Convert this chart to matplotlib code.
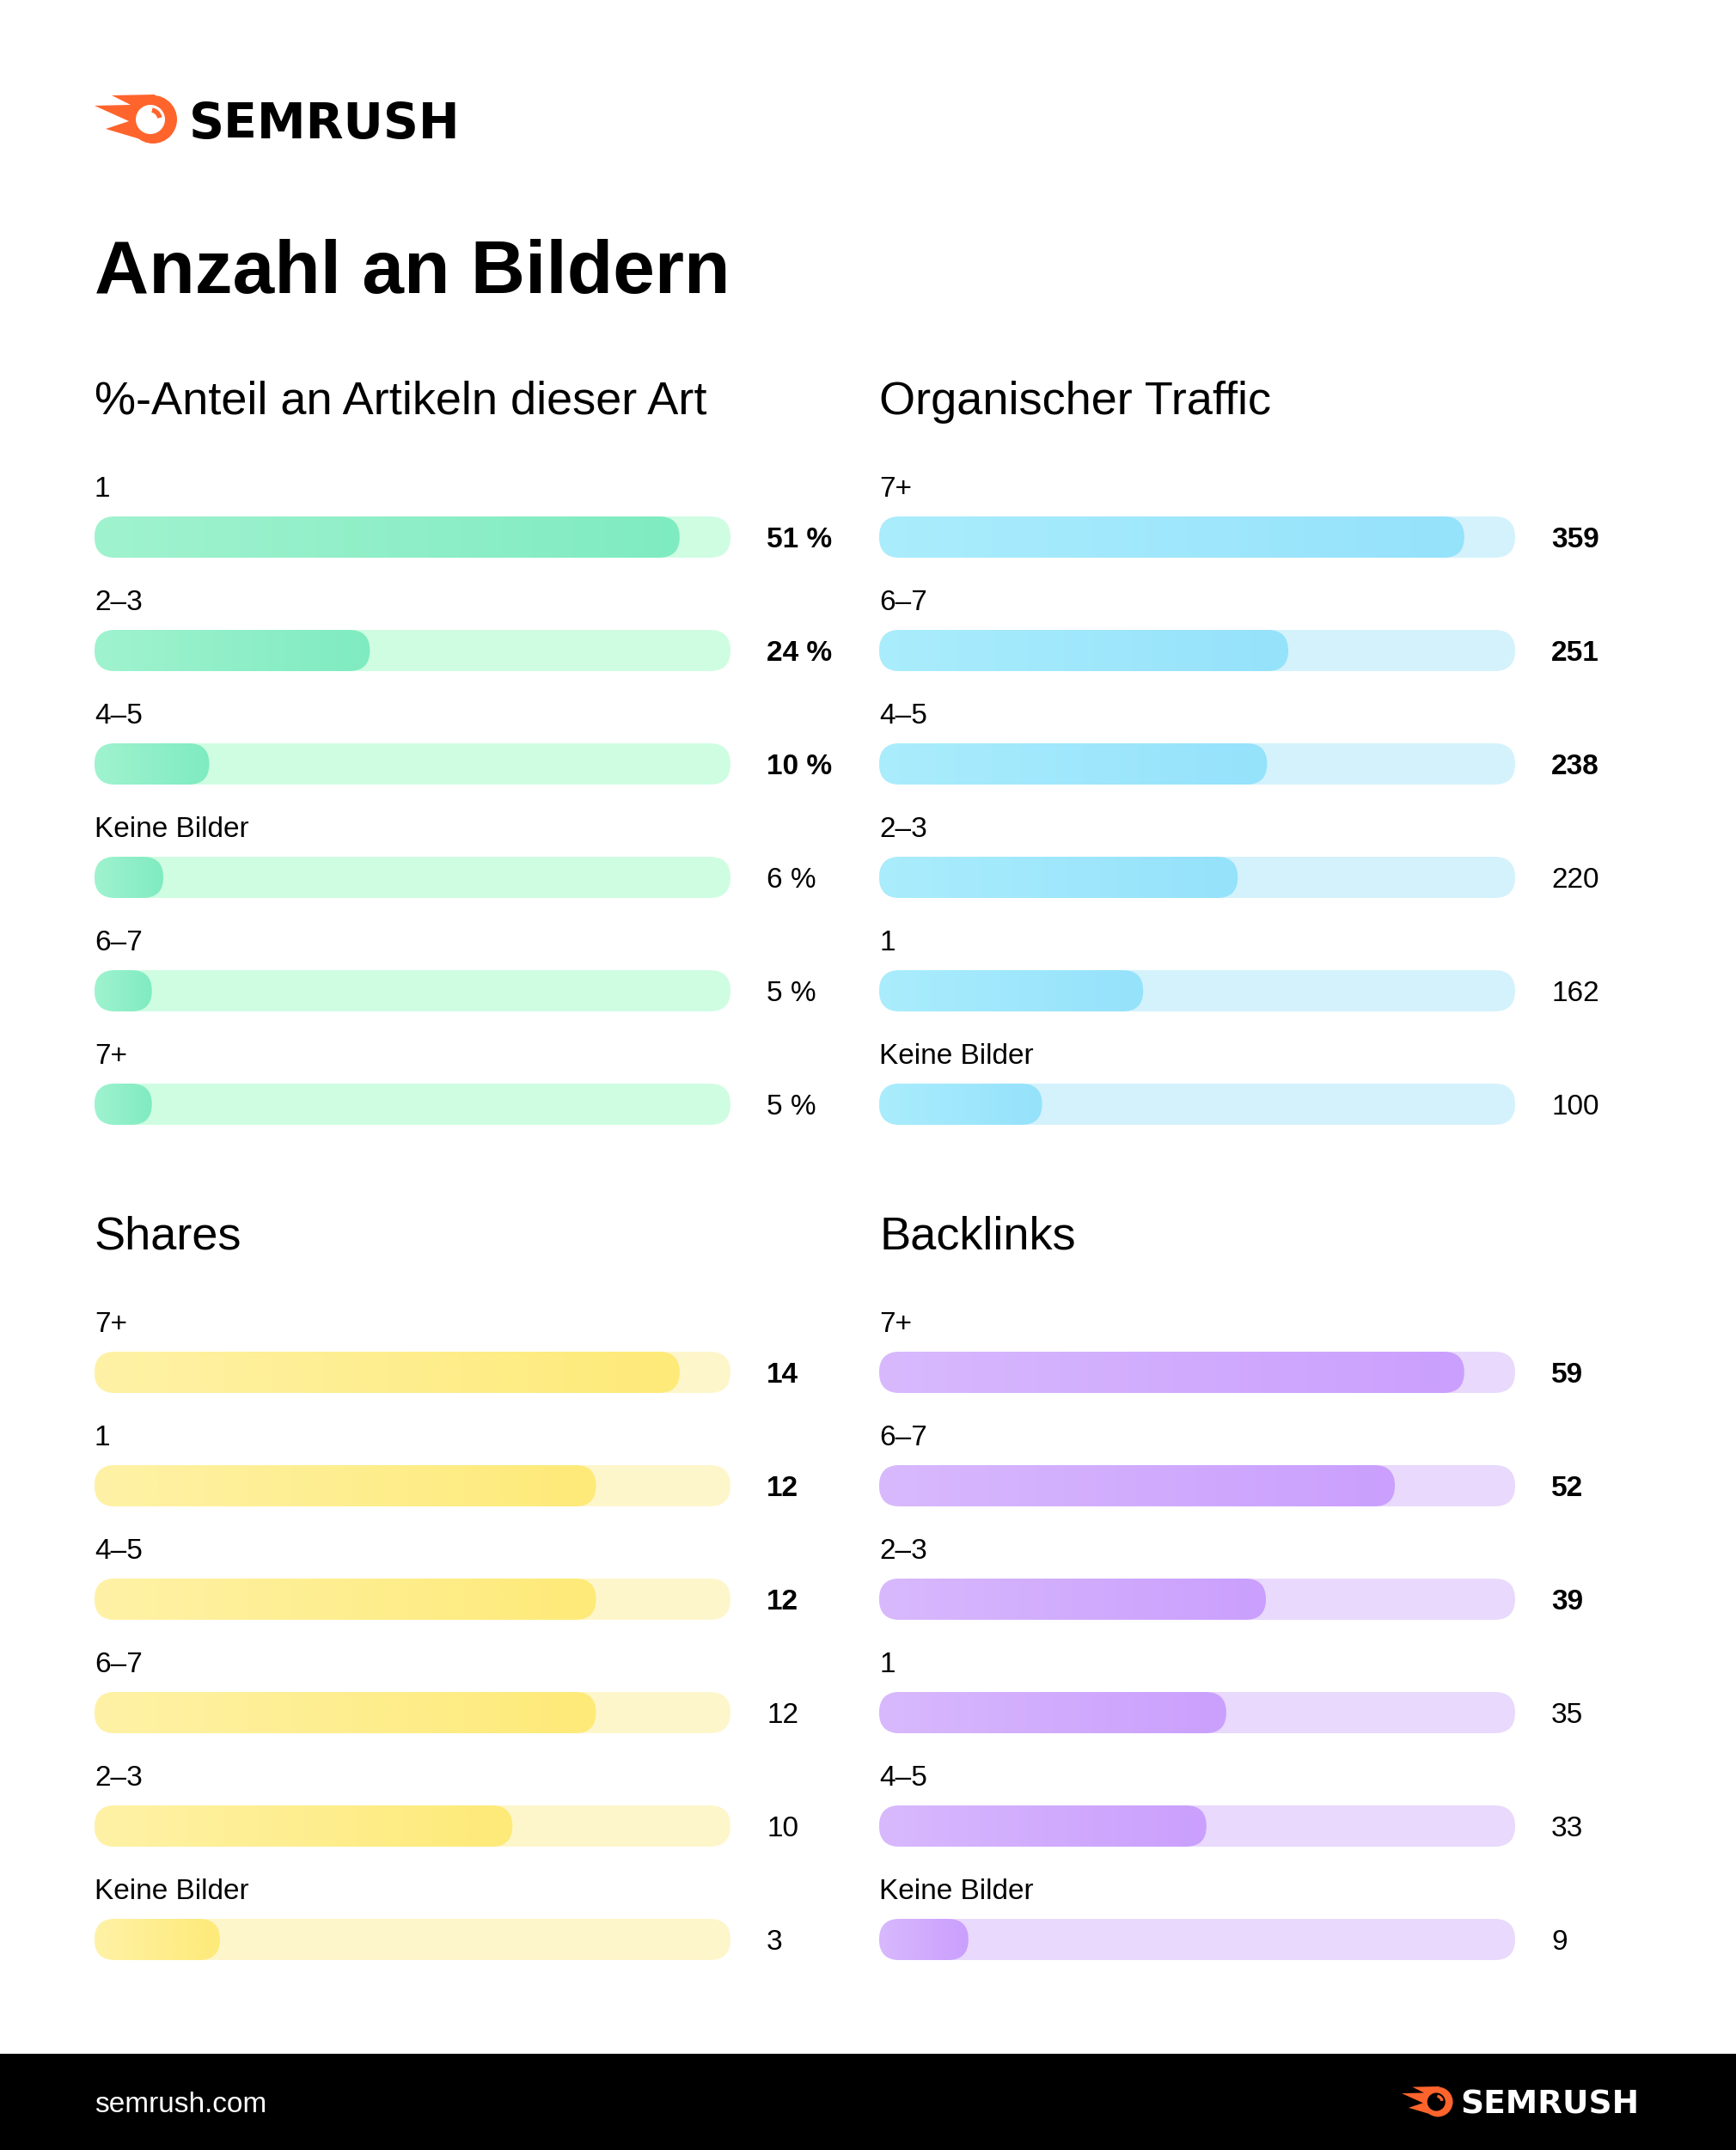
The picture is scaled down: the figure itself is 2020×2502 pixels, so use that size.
import numpy as np
import matplotlib
matplotlib.use("Agg")
import matplotlib.pyplot as plt
from matplotlib.patches import FancyBboxPatch, Rectangle, Circle, Polygon, Arc
from matplotlib.colors import LinearSegmentedColormap
from matplotlib.transforms import blended_transform_factory

plt.rcParams['font.family'] = ['Liberation Sans', 'DejaVu Sans']

# data
artikel_cats = ['1', '2–3', '4–5', 'Keine Bilder', '6–7', '7+']
artikel_vals = [51, 24, 10, 6, 5, 5]
traffic_cats = ['7+', '6–7', '4–5', '2–3', '1', 'Keine Bilder']
traffic_vals = [359, 251, 238, 220, 162, 100]
shares_cats = ['7+', '1', '4–5', '6–7', '2–3', 'Keine Bilder']
shares_vals = [14, 12, 12, 12, 10, 3]
backlinks_cats = ['7+', '6–7', '2–3', '1', '4–5', 'Keine Bilder']
backlinks_vals = [59, 52, 39, 35, 33, 9]

W, H = 2020, 2502
fig = plt.figure(figsize=(W / 100, H / 100), dpi=100)
fig.patch.set_facecolor('white')

# overlay in pixel coords for logo / header / footer
deco = fig.add_axes([0, 0, 1, 1])
deco.set_xlim(0, W)
deco.set_ylim(H, 0)
deco.axis('off')

ORANGE = '#FF642D'


def logo(ax, x0, yc, s, circle_col, text_col, fs):
    # flame tail + ball, icon about 95 px wide at s=1
    pts = np.array([(20, -28), (70, -29), (90, 0), (68, 28), (50, 22),
                    (13, 11), (40, 2), (0, -16), (42, -17)])
    ax.add_patch(Polygon(pts * s + [x0, yc], closed=True, color=ORANGE, lw=0))
    ax.add_patch(Circle((x0 + 68 * s, yc), 28 * s, color=ORANGE, lw=0))
    ax.add_patch(Circle((x0 + 65 * s, yc), 17 * s, color=circle_col, lw=0))
    ax.add_patch(Arc((x0 + 65 * s, yc), 22 * s, 22 * s, theta1=-80, theta2=-10,
                     color=ORANGE, lw=4 * s))
    ax.text(x0 + 110 * s, yc, 'SEMRUSH', color=text_col, fontsize=fs,
            fontweight='bold', family=['DejaVu Sans'], va='center_baseline', ha='left')


logo(deco, 110, 139, 1.0, 'white', 'black', 41)

deco.text(110, 341, 'Anzahl an Bildern', fontsize=63, fontweight='bold',
          va='baseline', ha='left')

# footer
deco.add_patch(Rectangle((0, 2390), W, H - 2390, color='black', lw=0))
deco.text(110, 2446, 'semrush.com', color='white', fontsize=24, va='center_baseline', ha='left')
logo(deco, 1631, 2446, 0.62, 'black', 'white', 27)

panels = [
    ('%-Anteil an Artikeln dieser Art', artikel_cats, artikel_vals, '{} %',
     '#CFFDE2', '#A0F3CF', '#7FEBC1', 110, 625),
    ('Organischer Traffic', traffic_cats, traffic_vals, '{}',
     '#D4F2FC', '#AAEDFD', '#95E2FB', 1023, 625),
    ('Shares', shares_cats, shares_vals, '{}',
     '#FEF6CB', '#FEF2A6', '#FEEA78', 110, 1597),
    ('Backlinks', backlinks_cats, backlinks_vals, '{}',
     '#E8D9FD', '#D8B9FE', '#CA9FFD', 1023, 1597),
]

track_px = 740
row_px = 132
bar_px = 48
y_top, y_bot = -0.8, 5.6

for title, cats, vals, fmt, track_c, c0, c1, x0, y0 in panels:
    top_px = y0 + y_top * row_px
    h_px = (y_bot - y_top) * row_px
    ax = fig.add_axes([x0 / W, 1 - (top_px + h_px) / H, track_px / W, h_px / H])
    ax.axis('off')
    xmax = max(vals) / 0.92
    xpp = xmax / track_px
    ypp = 1.0 / row_px
    h = bar_px * ypp
    r = (bar_px / 2) * xpp
    asp = ypp / xpp
    cmap = LinearSegmentedColormap.from_list('g', [c0, c1])
    grad = np.linspace(0, 1, 256).reshape(1, -1)
    tr = blended_transform_factory(ax.transAxes, ax.transData)

    for i, (c, v) in enumerate(zip(cats, vals)):
        trk = FancyBboxPatch((0, i - h / 2), xmax, h,
                             boxstyle=f'round,pad=0,rounding_size={r}',
                             mutation_aspect=asp, fc=track_c, ec='none', zorder=1)
        ax.add_patch(trk)
        bar = FancyBboxPatch((0, i - h / 2), v, h,
                             boxstyle=f'round,pad=0,rounding_size={r}',
                             mutation_aspect=asp, fc='none', ec='none', zorder=1)
        ax.add_patch(bar)
        im = ax.imshow(grad, cmap=cmap, aspect='auto', zorder=2,
                       extent=[0, v, i + h / 2, i - h / 2], interpolation='bilinear')
        im.set_clip_path(bar)
        ax.text(0, i - 47 * ypp, c, fontsize=24, va='baseline', ha='left')
        ax.text(1 + 42 / track_px, i, fmt.format(v), transform=tr, fontsize=24,
                fontweight='bold' if i < 3 else 'normal',
                va='center_baseline', ha='left')

    ax.set_xlim(0, xmax)
    ax.set_ylim(y_bot, y_top)
    deco.text(x0, y0 - 143, title, fontsize=39, va='baseline', ha='left')

fig.savefig('out.png', dpi=100, facecolor='white')
